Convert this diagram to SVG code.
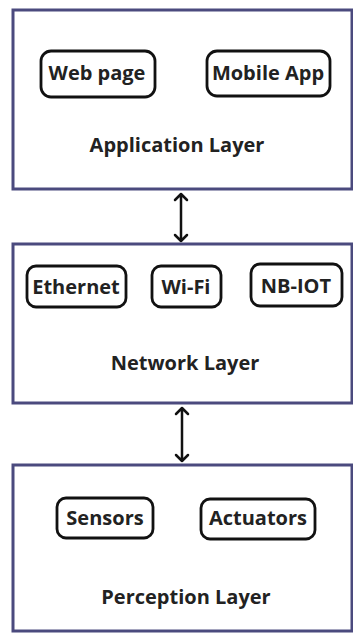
<svg xmlns="http://www.w3.org/2000/svg" width="353" height="633" viewBox="0 0 353 633">
<defs>
<style>
.layer{fill:#fff;stroke:#4b4a7e;stroke-width:3}
.item{fill:#fff;stroke:#111;stroke-width:2.8}
.t{font-family:"Open Sans","Noto Sans",sans-serif;font-weight:bold;font-size:20px;fill:#222;text-anchor:middle}
.conn{stroke:#111;stroke-width:2.5;fill:none;stroke-linecap:round;stroke-linejoin:round}
</style>
</defs>
<rect width="353" height="633" fill="#fff"/>
<g id="application-layer">
<rect class="layer" x="13" y="10" width="339" height="179"/>
<text class="t" x="177" y="152">Application Layer</text>
</g>
<g id="web-page"><rect class="item" x="41" y="51" width="114" height="46" rx="10"/><text class="t" x="97" y="80">Web page</text></g>
<g id="mobile-app"><rect class="item" x="207" y="51" width="123" height="45" rx="10"/><text class="t" x="268" y="80">Mobile App</text></g>
<g id="network-layer">
<rect class="layer" x="13" y="244" width="339" height="159"/>
<text class="t" x="185" y="370">Network Layer</text>
</g>
<g id="ethernet"><rect class="item" x="27" y="266" width="99" height="41" rx="9"/><text class="t" x="76" y="294">Ethernet</text></g>
<g id="wifi"><rect class="item" x="152" y="266" width="69" height="41" rx="9"/><text class="t" x="186" y="294">Wi-Fi</text></g>
<g id="nb-iot"><rect class="item" x="251" y="264" width="91" height="42" rx="9"/><text class="t" x="296" y="293">NB-IOT</text></g>
<g id="perception-layer">
<rect class="layer" x="13" y="465" width="339" height="166"/>
<text class="t" x="186" y="604">Perception Layer</text>
</g>
<g id="sensors"><rect class="item" x="57" y="498" width="96" height="40" rx="9"/><text class="t" x="105" y="525">Sensors</text></g>
<g id="actuators"><rect class="item" x="201" y="499" width="114" height="40" rx="9"/><text class="t" x="258" y="525">Actuators</text></g>
<g id="connectors">
<path class="conn" d="M181,194 V241 M175,200 L181,194 L187,200 M175,235 L181,241 L187,235"/>
<path class="conn" d="M182,408 V461 M176,414 L182,408 L188,414 M176,455 L182,461 L188,455"/>
</g>
</svg>
